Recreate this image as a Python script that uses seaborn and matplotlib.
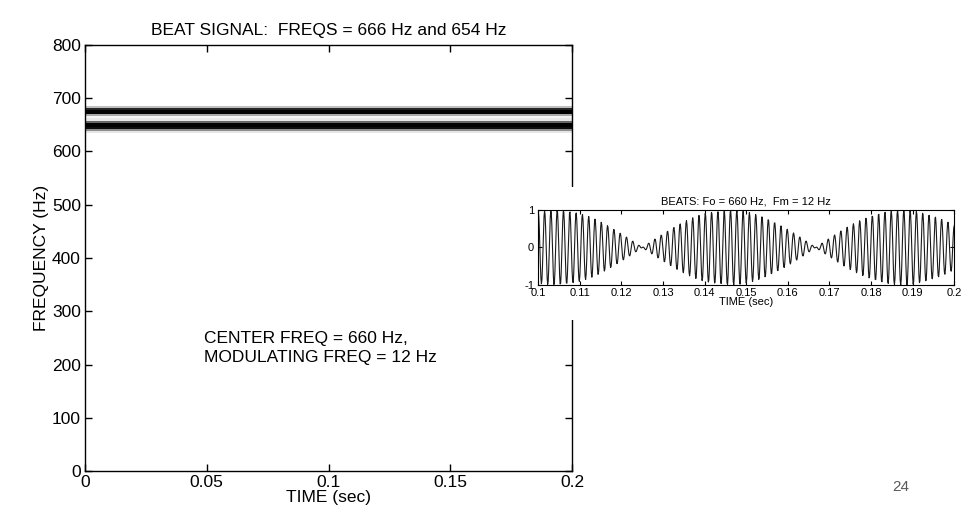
import numpy as np
import pandas as pd
import seaborn as sns
import matplotlib.pyplot as plt
from matplotlib.ticker import FormatStrFormatter

# spectrogram band: frequency bin edges (Hz) and darkness
band_edges = [630, 634, 638, 642, 646, 650, 654, 658, 662, 666, 670, 674, 678, 682, 686, 690]
band_level = [0.0, 0.1, 0.45, 0.95, 1.0, 1.0, 0.6, 0.1, 0.05, 0.35, 1.0, 1.0, 0.85, 0.25, 0.0]
time_span = [0.0, 0.2]

# beat signal parameters (from the chart's labels)
fo_hz = 660
fm_hz = 12
fs_hz = 8000
t_start, t_stop = 0.1, 0.2

main_xticks = [0, 0.05, 0.1, 0.15, 0.2]
main_yticks = [0, 100, 200, 300, 400, 500, 600, 700, 800]
inset_xticks = [0.1, 0.11, 0.12, 0.13, 0.14, 0.15, 0.16, 0.17, 0.18, 0.19, 0.2]
inset_yticks = [-1, 0, 1]

sns.set_theme(style="ticks")
plt.rcParams['font.family'] = ['Liberation Sans', 'DejaVu Sans']
plt.rcParams['axes.unicode_minus'] = False
plt.rcParams['text.color'] = 'black'
plt.rcParams['axes.labelcolor'] = 'black'

fig = plt.figure(figsize=(9.64, 5.16), dpi=100)

# main spectrogram axes
ax = fig.add_axes([0.0882, 0.0872, 0.5052, 0.8256])
level = np.array(band_level)[:, None] * np.ones((1, len(time_span) - 1))
ax.pcolormesh(time_span, band_edges, level, cmap="gray_r", vmin=0, vmax=1, shading="flat")
ax.set_xlim(0, 0.2)
ax.set_ylim(0, 800)
ax.set_xticks(main_xticks)
ax.set_yticks(main_yticks)
ax.xaxis.set_major_formatter(FormatStrFormatter('%g'))
ax.tick_params(direction="in", length=5, width=1, top=True, right=True,
               labelsize=12.5, colors="black", pad=3)
for s in ax.spines.values():
    s.set_color("black")
    s.set_linewidth(1)
ax.set_title("BEAT SIGNAL:  FREQS = 666 Hz and 654 Hz", fontsize=12.5, pad=7, color="black")
ax.set_xlabel("TIME (sec)", fontsize=12.5, labelpad=0)
ax.set_ylabel("FREQUENCY (Hz)", fontsize=12.5, labelpad=2)
ax.text(0.049, 262, "CENTER FREQ = 660 Hz,\nMODULATING FREQ = 12 Hz",
        fontsize=12.5, va="top", ha="left", linespacing=1.3, color="black")

# white backing box that hides part of the main axes behind the inset
bg = fig.add_axes([0.5187, 0.3798, 0.4813, 0.2578])
bg.set_facecolor("white")
bg.set_xticks([])
bg.set_yticks([])
for s in bg.spines.values():
    s.set_visible(False)

# inset waveform
t = np.arange(t_start, t_stop + 1 / fs_hz, 1 / fs_hz)
sig = np.sin(2 * np.pi * fm_hz * t) * np.cos(2 * np.pi * fo_hz * t)
wave = pd.DataFrame({"t": t, "x": sig})

ins = fig.add_axes([0.5584, 0.4477, 0.4315, 0.1453])
sns.lineplot(data=wave, x="t", y="x", ax=ins, color="#1a1a1a", linewidth=0.8)
ins.set_xlim(0.1, 0.2)
ins.set_ylim(-1, 1)
ins.set_xticks(inset_xticks)
ins.set_yticks(inset_yticks)
ins.xaxis.set_major_formatter(FormatStrFormatter('%g'))
ins.tick_params(direction="in", length=3, width=0.8, top=True, right=True,
                labelsize=8, colors="black")
ins.tick_params(axis="x", pad=2.5)
ins.tick_params(axis="y", pad=3)
for s in ins.spines.values():
    s.set_color("black")
    s.set_linewidth(0.8)
ins.set_title("BEATS: Fo = 660 Hz,  Fm = 12 Hz", fontsize=8, pad=4, color="black")
ins.set_xlabel("TIME (sec)", fontsize=8, labelpad=-1)
ins.set_ylabel("")

fig.text(0.934, 0.056, "24", fontsize=11, color="#595959", ha="center", va="center")

fig.savefig("out.png", dpi=100)
